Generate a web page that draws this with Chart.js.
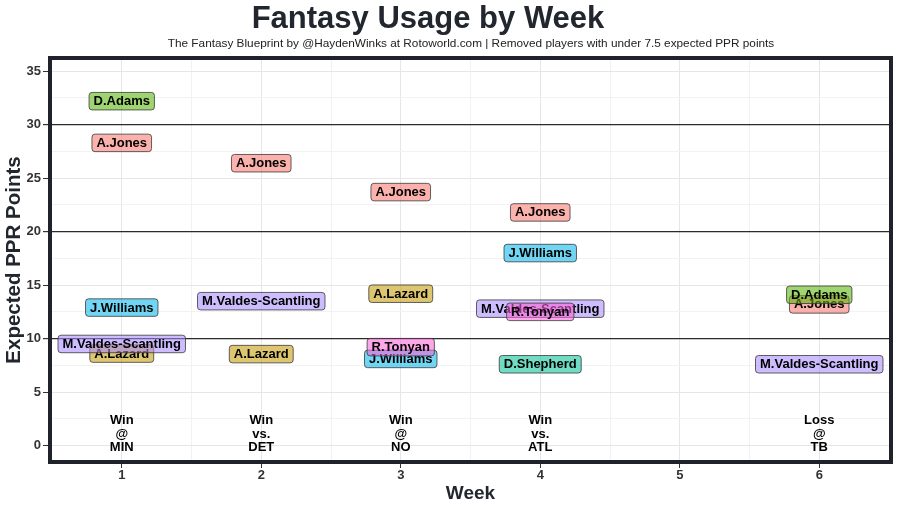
<!DOCTYPE html>
<html>
<head>
<meta charset="utf-8">
<script src="https://cdn.jsdelivr.net/npm/chart.js@4.4.0/dist/chart.umd.min.js"></script>
<style>
  body { margin: 0; background: #fff; }
</style>
</head>
<body>
<canvas id="usage-chart" width="900" height="510"></canvas>
<script>
// Players, in drawing order (alphabetical, like ggplot)
const players = ['A.Jones', 'A.Lazard', 'D.Adams', 'D.Shepherd', 'J.Williams', 'M.Valdes-Scantling', 'R.Tonyan'];
const playerColors = ['#F8766D', '#C49A00', '#53B400', '#00C094', '#00B6EB', '#A58AFF', '#FB61D7'];

// Weeks 1 to 6 (week 5 = bye) - null = no label that week
const weeks = [1, 2, 3, 4, 5, 6];
const jonesPts    = [28.3, 26.4, 23.7, 21.8, null, 13.2];
const lazardPts   = [8.6, 8.55, 14.2, null, null, null];
const adamsPts    = [32.2, null, null, null, null, 14.1];
const shepherdPts = [null, null, null, 7.6, null, null];
const williamsPts = [12.9, null, 8.1, 18.0, null, null];
const valdesPts   = [9.5, 13.5, null, 12.8, null, 7.6];
const tonyanPts   = [null, null, 9.2, 12.5, null, null];
const playerPoints = [jonesPts, lazardPts, adamsPts, shepherdPts, williamsPts, valdesPts, tonyanPts];

// Game results shown at the bottom
const resultWeeks = [1, 2, 3, 4, 6];
const resultY = [1.05, 1.05, 1.05, 1.05, 1.05];
const resultLabels = [['Win', '@', 'MIN'], ['Win', 'vs.', 'DET'], ['Win', '@', 'NO'], ['Win', 'vs.', 'ATL'], ['Loss', '@', 'TB']];

// Axes
const yTicks = [0, 2.5, 5, 7.5, 10, 12.5, 15, 17.5, 20, 22.5, 25, 27.5, 30, 32.5, 35];
const xTicks = [1, 1.5, 2, 2.5, 3, 3.5, 4, 4.5, 5, 5.5, 6];
const hLines = [10, 20, 30];

const FONT = '"Liberation Sans", Arial, Helvetica, sans-serif';

function withAlpha(hex, a) {
    const n = parseInt(hex.slice(1), 16);
    return `rgba(${(n >> 16) & 255}, ${(n >> 8) & 255}, ${n & 255}, ${a})`;
}

// Dessine les étiquettes des joueurs (façon geom_label) et les résultats
const labelPlugin = {
    id: 'labels',
    afterDatasetsDraw(chart) {
        const ctx = chart.ctx;
        ctx.save();
        ctx.font = `bold 13px ${FONT}`;
        ctx.textAlign = 'center';
        ctx.textBaseline = 'middle';
        chart.data.datasets.forEach((ds, i) => {
            const meta = chart.getDatasetMeta(i);
            meta.data.forEach(pt => {
                const w = ctx.measureText(ds.label).width + 9;
                const h = 17.5;
                ctx.beginPath();
                ctx.roundRect(pt.x - w / 2, pt.y - h / 2, w, h, 3);
                ctx.fillStyle = withAlpha(playerColors[i], 0.56);
                ctx.fill();
                ctx.lineWidth = 0.8;
                ctx.strokeStyle = '#3a3a3a';
                ctx.stroke();
                ctx.fillStyle = '#000';
                ctx.fillText(ds.label, pt.x, pt.y + 0.5);
            });
        });

        // résultats des matchs
        const xs = chart.scales.x, ys = chart.scales.y;
        ctx.fillStyle = '#000';
        resultWeeks.forEach((wk, i) => {
            const px = xs.getPixelForValue(wk);
            const py = ys.getPixelForValue(resultY[i]);
            const lines = resultLabels[i];
            lines.forEach((t, j) => {
                ctx.fillText(t, px, py + (j - (lines.length - 1) / 2) * 13.5);
            });
        });
        ctx.restore();
    },
    afterDraw(chart) {
        const ctx = chart.ctx;
        const a = chart.chartArea;
        ctx.save();
        // cadre épais autour du panneau
        ctx.lineWidth = 4;
        ctx.strokeStyle = '#1f222b';
        ctx.strokeRect(a.left - 2, a.top - 2, a.right - a.left + 4, a.bottom - a.top + 4);
        // titre et sous-titre
        ctx.fillStyle = '#22262e';
        ctx.textAlign = 'center';
        ctx.textBaseline = 'middle';
        ctx.font = `bold 31px ${FONT}`;
        ctx.fillText('Fantasy Usage by Week', 428, 19);
        ctx.fillStyle = '#222';
        ctx.font = `11.8px ${FONT}`;
        ctx.fillText('The Fantasy Blueprint by @HaydenWinks at Rotoworld.com | Removed players with under 7.5 expected PPR points', 471, 44);
        ctx.restore();
    }
};

const datasets = players.map((name, i) => ({
    label: name,
    data: weeks
        .map((wk, j) => ({ x: wk, y: playerPoints[i][j] }))
        .filter(p => p.y !== null),
    pointRadius: 0,
    pointHoverRadius: 0,
    showLine: false
}));

const ctx = document.getElementById('usage-chart').getContext('2d');
window.chart = new Chart(ctx, {
    type: 'scatter',
    data: { datasets: datasets },
    options: {
        responsive: false,
        animation: false,
        layout: { padding: { top: 60, right: 11, bottom: 0, left: 0 } },
        plugins: {
            legend: { display: false },
            tooltip: { enabled: false }
        },
        scales: {
            x: {
                type: 'linear',
                min: 0.5,
                max: 6.5,
                afterBuildTicks: axis => { axis.ticks = xTicks.map(v => ({ value: v })); },
                afterFit: scale => { scale.height = 50; },
                ticks: {
                    autoSkip: false,
                    maxRotation: 0,
                    padding: 0,
                    color: '#333',
                    font: { family: FONT, size: 13, weight: 'bold' },
                    callback: v => (Number.isInteger(v) ? v : '')
                },
                grid: {
                    tickLength: 8,
                    color: c => (Number.isInteger(c.tick.value) ? '#e6e6e6' : '#f2f2f2'),
                    tickColor: c => (Number.isInteger(c.tick.value) ? '#333' : 'rgba(0,0,0,0)')
                },
                border: { display: false },
                title: {
                    display: true,
                    text: 'Week',
                    color: '#22262e',
                    font: { family: FONT, size: 19, weight: 'bold' },
                    padding: { top: 0, bottom: 5 }
                }
            },
            y: {
                min: -1.35,
                max: 36.05,
                afterBuildTicks: axis => { axis.ticks = yTicks.map(v => ({ value: v })); },
                afterFit: scale => { scale.width = 52; },
                ticks: {
                    autoSkip: false,
                    padding: 2,
                    color: '#333',
                    font: { family: FONT, size: 13, weight: 'bold' },
                    callback: v => (v % 5 === 0 ? v : '')
                },
                grid: {
                    tickLength: 9,
                    color: c => (hLines.includes(c.tick.value) ? '#2b2b2b'
                        : (c.tick.value % 5 === 0 ? '#e6e6e6' : '#f2f2f2')),
                    lineWidth: c => (hLines.includes(c.tick.value) ? 1.2 : 1),
                    tickColor: c => (c.tick.value % 5 === 0 ? '#333' : 'rgba(0,0,0,0)')
                },
                border: { display: false },
                title: {
                    display: true,
                    text: 'Expected PPR Points',
                    color: '#22262e',
                    font: { family: FONT, size: 20.5, weight: 'bold' },
                    padding: { top: 2, bottom: 0 }
                }
            }
        }
    },
    plugins: [labelPlugin]
});
</script>
</body>
</html>
